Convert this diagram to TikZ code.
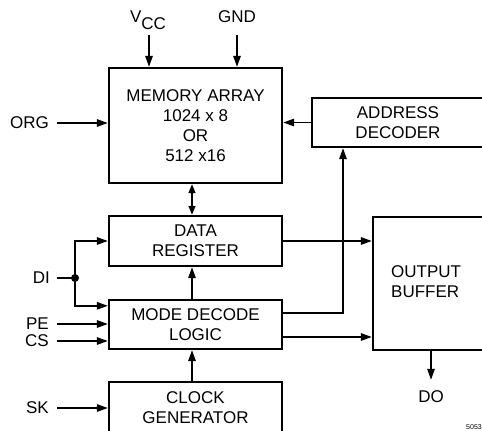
\documentclass[tikz,border=0pt]{standalone}
\usepackage{fontspec}
\setmainfont{Liberation Sans}
\usetikzlibrary{arrows.meta}
\begin{document}
\begin{tikzpicture}[x=1pt,y=-1pt,
  box/.style={draw,line width=2.4pt,inner sep=0pt,align=center,
    font=\fontsize{17}{20}\selectfont},
  lbl/.style={inner sep=0pt,font=\fontsize{17}{20}\selectfont,align=center},
  arr/.style={line width=1.5pt,-{Triangle[length=11pt,width=7.5pt]}},
  darr/.style={line width=1.5pt,{Triangle[length=9pt,width=7pt]}-{Triangle[length=9pt,width=7pt]}},
  wire/.style={line width=1.5pt}]
\useasboundingbox (0,0) rectangle (482,431);
\clip (0,0) rectangle (482,431);
% boxes
\node[box,minimum width=173pt,minimum height=115pt] (mem) at (195.5,125.5)
  {MEMORY ARRAY\\1024 x 8\\OR\\512 x16};
\node[box,minimum width=172pt,minimum height=49pt] (addr) at (398,122.5)
  {ADDRESS\\DECODER};
\node[box,minimum width=173pt,minimum height=50pt] (dreg) at (195.5,241)
  {DATA\\REGISTER};
\node[box,minimum width=173pt,minimum height=49pt] (mode) at (195.5,324.5)
  {MODE DECODE\\LOGIC};
\node[box,minimum width=173pt,minimum height=52pt] (clk) at (195.5,408)
  {CLOCK\\GENERATOR};
\node[box,minimum width=122pt,minimum height=133pt] (obuf) at (434,283.5) {};
\node[lbl,anchor=west,align=left] (obuft) at (391,282) {OUTPUT\\BUFFER};
% labels
\node[lbl] (vcc) at (148,20) {V\raisebox{-7pt}{CC}};
\node[lbl] (gnd) at (237,17) {GND};
\node[lbl,anchor=east] (org) at (49,123) {ORG};
\node[lbl,anchor=east] (di) at (50,278) {DI};
\node[lbl,anchor=east] (pe) at (49,324) {PE};
\node[lbl,anchor=east] (cs) at (49,341) {CS};
\node[lbl,anchor=east] (sk) at (49,408) {SK};
\node[lbl] (do) at (431,397) {DO};
\node[inner sep=0pt,font=\fontsize{7}{8}\selectfont,anchor=east] (code) at (482,427) {5053};
% helper coordinates
\coordinate (vx) at (192,0);
\coordinate (ax) at (343,0);
\coordinate (j) at (75,278);
\coordinate (vcx) at (149,35);
\coordinate (gx) at (237,35);
% connectors
\draw[arr] (vcx) -- (vcx |- mem.north);
\draw[arr] (gx) -- (gx |- mem.north);
\draw[arr] ([xshift=8pt]org.east) -- (org.east -| mem.west);
\draw[arr] (addr.west) -- (addr.west -| mem.east);
\draw[darr] (vx |- mem.south) -- (vx |- dreg.north);
\draw[arr] (vx |- mode.north) -- (vx |- dreg.south);
\draw[arr] (vx |- clk.north) -- (vx |- mode.south);
\draw[wire] ([xshift=7pt]di.east) -- (j);
\fill (j) circle (4pt);
\draw[arr] (j) |- (dreg.west);
\draw[arr] (j) |- ([yshift=-7pt]mode.north west);
\draw[arr] ([xshift=8pt]pe.east) -- (pe.east -| mode.west);
\draw[arr] ([xshift=8pt]cs.east) -- (cs.east -| mode.west);
\draw[arr] ([xshift=8pt]sk.east) -- (sk.east -| clk.west);
\draw[arr] (dreg.east) -- (dreg.east -| obuf.west);
\draw[arr] ([yshift=-12.5pt]mode.east) -- ([yshift=-12.5pt]mode.east -| obuf.west);
\draw[arr] ([yshift=11.5pt]mode.east) -| (ax |- addr.south);
\draw[arr] (do |- obuf.south) -- ([yshift=11pt]do.north);
\end{tikzpicture}
\end{document}
